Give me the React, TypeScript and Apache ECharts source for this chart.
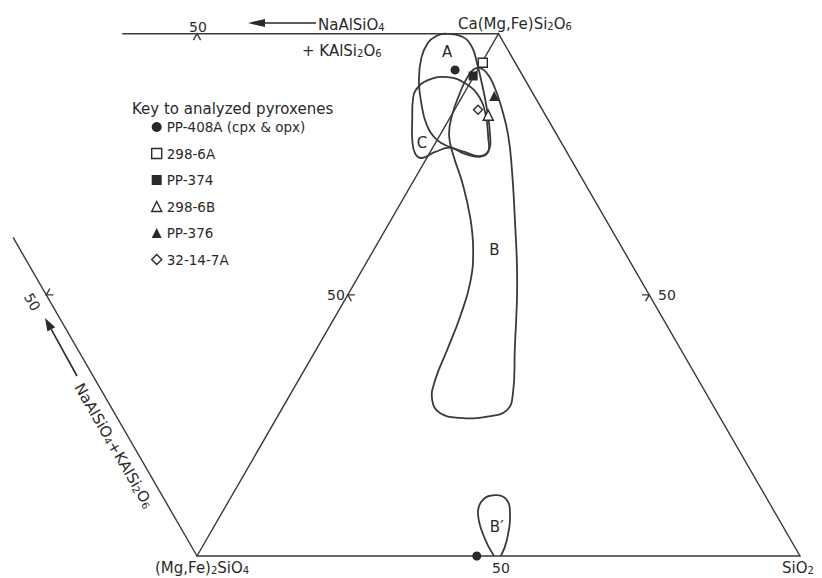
import React, { useEffect, useRef } from 'react';
import * as echarts from 'echarts';

const FONT = '"DejaVu Sans", "Noto Sans", sans-serif';
const INK = '#2a2a2a';
const LINE = '#3a3a3a';

// Diagram units: triangle side = 100. (Mg,Fe)2SiO4 at (0,0), SiO2 at (100,0), Ca(Mg,Fe)Si2O6 at (50,86.6)
const H = 86.6;
const VERTEX_OL = [0, 0];
const VERTEX_QZ = [100, 0];
const VERTEX_CPX = [50, H];
const VERTEX_NE = [-50, H]; // unfolded NaAlSiO4+KAlSi2O6 apex (off page)
const TOP_JOIN_DRAWN = 0.624;
const LEFT_JOIN_DRAWN = 0.61;

// Analysed pyroxenes (diagram x, y)
const sampleNames = ['PP-408A (cpx & opx)', '298-6A', 'PP-374', '298-6B', 'PP-376', '32-14-7A'];
const sampleSymbols = ['circle', 'rect', 'rect', 'triangle', 'triangle', 'diamond'];
const sampleFilled = [true, false, true, false, true, false];
const samplePoints = [
  [[42.8, 80.6], [46.4, 0]],
  [[47.4, 81.8]],
  [[45.8, 79.6]],
  [[48.3, 73.1]],
  [[49.3, 76.3]],
  [[46.6, 74.0]],
];

// Field outlines
const fieldA = [
  [41.1, 86.6], [44.0, 86.1], [45.6, 84.4], [46.4, 81.9], [47.3, 78.1], [48.1, 74.0],
  [48.6, 69.8], [48.4, 67.3], [46.9, 66.3], [44.4, 67.0], [42.0, 67.8], [39.8, 69.0],
  [38.1, 71.5], [37.2, 75.1], [36.8, 78.9], [37.2, 82.6], [38.3, 85.1], [39.6, 86.2],
];
const fieldC = [
  [36.3, 77.3], [38.3, 78.9], [41.6, 79.4], [44.6, 78.3], [46.9, 76.0], [47.9, 73.0],
  [48.3, 69.3], [48.3, 67.0], [46.9, 66.2], [44.4, 66.7], [42.0, 67.7], [39.5, 67.0],
  [37.3, 66.0], [36.2, 66.7], [35.7, 69.0], [35.7, 72.6], [35.8, 75.6],
];
const fieldB = [
  [46.3, 80.9], [47.9, 80.3], [49.4, 77.6], [50.6, 74.0], [51.6, 69.8], [52.2, 64.4],
  [52.7, 56.2], [53.1, 45.3], [52.7, 34.2], [52.4, 27.0], [51.4, 24.2], [48.1, 23.1],
  [43.6, 22.9], [40.3, 23.7], [39.0, 25.9], [39.5, 29.2], [41.5, 34.2], [43.6, 39.6],
  [45.3, 45.3], [45.8, 50.8], [45.3, 56.2], [44.0, 61.9], [42.5, 66.5], [41.8, 69.8],
  [42.3, 73.1], [43.5, 76.5], [44.8, 79.3],
];
const fieldBPrime = [
  [49.25, 0], [47.6, 3.2], [46.6, 7.1], [47.4, 9.3], [49.4, 10.1], [51.2, 9.5],
  [51.9, 7.3], [51.4, 2.7], [50.4, 0],
];
const fieldLabelNames = ['A', 'B', 'C', 'B\u2032'];
const fieldLabelPoints = [[41.5, 83.6], [49.3, 50.7], [37.3, 68.5], [49.7, 4.8]];

// axis window (layout)
const X_MIN = -32.67, X_MAX = 103.65, Y_MIN = -3.65, Y_MAX = 92.2;

const lerp = (a: number[], b: number[], t: number) => [a[0] + (b[0] - a[0]) * t, a[1] + (b[1] - a[1]) * t];

function chevron(a: number[], b: number[], ref: number[], L = 1.2) {
  const m = lerp(a, b, 0.5);
  const dx = b[0] - a[0], dy = b[1] - a[1];
  const len = Math.hypot(dx, dy);
  const t = [dx / len, dy / len];
  let n = [-t[1], t[0]];
  if ((ref[0] - m[0]) * n[0] + (ref[1] - m[1]) * n[1] < 0) n = [-n[0], -n[1]];
  const leg = (s: number) => [m[0] + L * (0.87 * n[0] + s * 0.5 * t[0]), m[1] + L * (0.87 * n[1] + s * 0.5 * t[1])];
  return [leg(1), m, leg(-1)];
}

function chem(str: string, size: number) {
  // "Si_2O_6" -> rich tokens with subscripts
  const parts: string[] = [];
  let buf = '';
  for (let i = 0; i < str.length; i++) {
    if (str[i] === '_') {
      if (buf) parts.push('{n|' + buf + '}');
      buf = '';
      parts.push('{s|' + str[i + 1] + '}');
      i++;
    } else buf += str[i];
  }
  if (buf) parts.push('{n|' + buf + '}');
  return {
    text: parts.join(''),
    rich: {
      n: { fontSize: size, fontFamily: FONT, fill: INK, lineHeight: 18, verticalAlign: 'bottom' },
      s: { fontSize: Math.round(size * 0.68), fontFamily: FONT, fill: INK, lineHeight: 9, verticalAlign: 'bottom' },
    },
  };
}

function textEl(str: string, x: number, y: number, size: number, align = 'left', rotation = 0) {
  const c = chem(str, size);
  return {
    type: 'text', x, y, rotation, silent: true,
    style: {
      text: c.text, rich: c.rich, fill: INK, fontSize: size, fontFamily: FONT,
      align, textAlign: align, verticalAlign: 'middle', textVerticalAlign: 'middle',
    },
  };
}

export default function App() {
  const ref = useRef<HTMLDivElement>(null);
  useEffect(() => {
    const chart = echarts.init(ref.current!, null, { renderer: 'svg' });

    const frameLines: { pts: number[][]; closed: boolean }[] = [
      { pts: [VERTEX_OL, VERTEX_QZ, VERTEX_CPX], closed: true },
      { pts: [VERTEX_CPX, lerp(VERTEX_CPX, VERTEX_NE, TOP_JOIN_DRAWN)], closed: false },
      { pts: [VERTEX_OL, lerp(VERTEX_OL, VERTEX_NE, LEFT_JOIN_DRAWN)], closed: false },
      { pts: chevron(VERTEX_CPX, VERTEX_NE, VERTEX_OL), closed: false },
      { pts: chevron(VERTEX_OL, VERTEX_NE, VERTEX_CPX), closed: false },
      { pts: chevron(VERTEX_OL, VERTEX_CPX, VERTEX_QZ), closed: false },
      { pts: chevron(VERTEX_QZ, VERTEX_CPX, VERTEX_OL), closed: false },
    ];
    const fields = [
      { pts: fieldA, closed: true },
      { pts: fieldB, closed: true },
      { pts: fieldC, closed: true },
      { pts: fieldBPrime, closed: false },
    ];

    const series: any[] = [
      {
        type: 'custom', name: 'frame', silent: true,
        data: frameLines.map((f) => f.pts[0]),
        renderItem: (params: any, api: any) => {
          const f = frameLines[params.dataIndex];
          const pts = f.pts.map((p) => api.coord(p));
          return {
            type: f.closed ? 'polygon' : 'polyline',
            shape: { points: pts },
            style: { fill: 'none', stroke: LINE, lineWidth: 1.4 },
          };
        },
      },
      {
        type: 'custom', name: 'fields', silent: true,
        data: fields.map((f) => f.pts[0]),
        renderItem: (params: any, api: any) => {
          const f = fields[params.dataIndex];
          const pts = f.pts.map((p) => api.coord(p));
          return {
            type: f.closed ? 'polygon' : 'polyline',
            shape: { points: pts, smooth: 0.45 },
            style: { fill: 'none', stroke: LINE, lineWidth: 1.8 },
          };
        },
      },
      ...sampleNames.map((name, i) => ({
        type: 'scatter', name, symbol: sampleSymbols[i],
        symbolSize: sampleSymbols[i] === 'triangle' ? 10 : 9,
        data: samplePoints[i],
        itemStyle: {
          color: sampleFilled[i] ? INK : '#ffffff',
          borderColor: INK, borderWidth: sampleFilled[i] ? 0 : 1.4, opacity: 1,
        },
        z: 5,
      })),
      {
        type: 'custom', name: 'fieldLabels', silent: true, z: 6,
        data: fieldLabelPoints,
        renderItem: (params: any, api: any) => {
          const p = api.coord(fieldLabelPoints[params.dataIndex]);
          return {
            type: 'text', x: p[0], y: p[1],
            style: {
              text: fieldLabelNames[params.dataIndex], fill: INK, fontSize: 15, fontFamily: FONT,
              align: 'center', verticalAlign: 'middle', textAlign: 'center', textVerticalAlign: 'middle',
            },
          };
        },
      },
    ];

    const graphic: any[] = [
      textEl('50', 198, 25, 14, 'center'),
      textEl('NaAlSiO_4', 318, 23, 15),
      textEl('+ KAlSi_2O_6', 302, 49, 15),
      textEl('Ca(Mg,Fe)Si_2O_6', 458, 22, 15),
      textEl('Key to analyzed pyroxenes', 132, 107, 15),
      textEl('50', 336, 293, 14, 'center'),
      textEl('50', 667, 293, 14, 'center'),
      textEl('50', 501, 566, 14, 'center'),
      textEl('(Mg,Fe)_2SiO_4', 155, 566, 15),
      textEl('SiO_2', 782, 566, 15),
      textEl('50', 34, 301, 14, 'center', -Math.PI / 3),
      textEl('NaAlSiO_4+KAlSi_2O_6', 115, 445, 15, 'center', -Math.PI / 3),
      // arrow along the top join
      { type: 'line', silent: true, shape: { x1: 262, y1: 23, x2: 316, y2: 23 }, style: { stroke: INK, lineWidth: 1.6 } },
      { type: 'polygon', silent: true, shape: { points: [[248, 23], [265, 19], [265, 27]] }, style: { fill: INK } },
      // arrow along the left join
      { type: 'line', silent: true, shape: { x1: 77, y1: 376, x2: 51.3, y2: 329.4 }, style: { stroke: INK, lineWidth: 1.6 } },
      { type: 'polygon', silent: true, shape: { points: [[45, 318], [55.2, 327.3], [47.4, 331.5]] }, style: { fill: INK } },
    ];

    chart.setOption({
      animation: false,
      backgroundColor: '#ffffff',
      grid: { left: 0, right: 0, top: 0, bottom: 0, containLabel: false },
      xAxis: { type: 'value', min: X_MIN, max: X_MAX, show: false },
      yAxis: { type: 'value', min: Y_MIN, max: Y_MAX, show: false },
      legend: {
        orient: 'vertical', left: 146, top: 114, padding: 5, itemWidth: 10, itemHeight: 10, itemGap: 10.5,
        selectedMode: false,
        textStyle: { fontFamily: FONT, fontSize: 13.5, color: INK, lineHeight: 16 },
        data: sampleNames.map((n, i) => ({
          name: n, icon: sampleSymbols[i],
          itemStyle: {
            color: sampleFilled[i] ? INK : '#ffffff', borderColor: INK,
            borderWidth: sampleFilled[i] ? 0 : 1.4,
          },
        })),
      },
      graphic,
      series,
    });
    return () => chart.dispose();
  }, []);
  return (
    <div
      ref={ref}
      style={{ position: 'absolute', left: 0, top: 0, width: 822, height: 578, background: '#fff' }}
    />
  );
}
